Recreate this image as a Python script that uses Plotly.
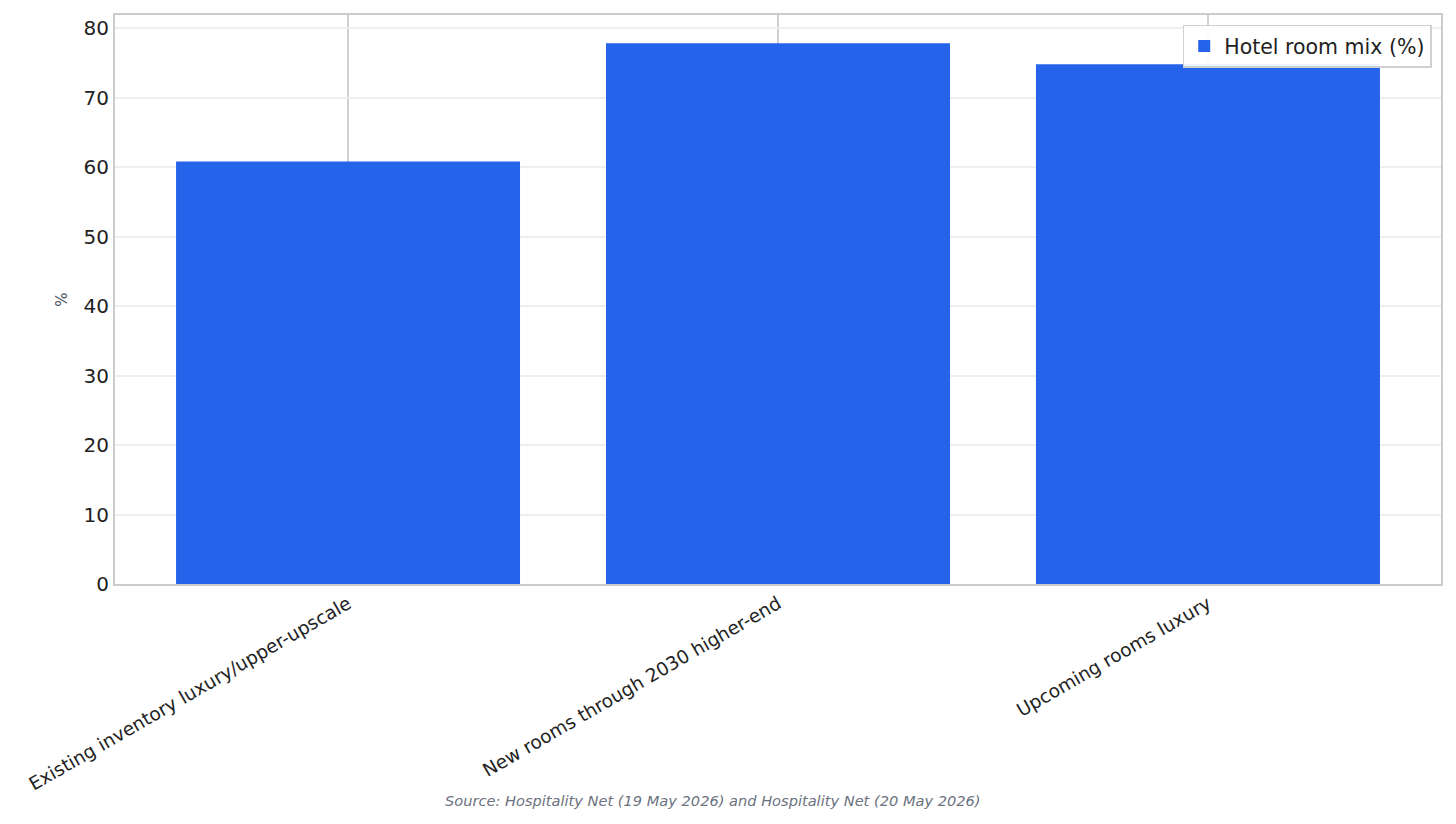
import plotly.graph_objects as go

categories = ["Existing inventory luxury/upper-upscale", "New rooms through 2030 higher-end", "Upcoming rooms luxury"]
values = [60.8, 77.8, 74.8]
series_name = "Hotel room mix (%)"
y_ticks = [0, 10, 20, 30, 40, 50, 60, 70, 80]
source_text = "Source: Hospitality Net (19 May 2026) and Hospitality Net (20 May 2026)"

fig = go.Figure()
fig.add_trace(go.Bar(x=categories, y=values, name=series_name, marker=dict(color="#2563EB", line=dict(width=0)), width=0.8))

fig.update_layout(
    width=1456, height=824,
    margin=dict(l=115, r=15, t=15, b=240),
    paper_bgcolor="white", plot_bgcolor="white",
    font=dict(family="DejaVu Sans", color="#222222"),
    showlegend=True,
    legend=dict(x=0.993, y=0.983, xanchor="right", yanchor="top", bgcolor="rgba(255,255,255,0.9)",
                bordercolor="#d0d0d0", borderwidth=1.5, font=dict(size=20.5, color="#222222")),
    bargap=0.2,
    annotations=[dict(text="<i>" + source_text + "</i>", xref="paper", yref="paper", x=0.451, y=-0.381,
                      xanchor="center", yanchor="middle", showarrow=False,
                      font=dict(size=14.6, color="#6b7280", family="DejaVu Sans"))],
)

fig.update_xaxes(range=[-0.542, 2.542], tickangle=-30, tickfont=dict(size=18.5, color="#222222"),
                 showgrid=True, gridcolor="#d0d0d0", gridwidth=1.5,
                 showline=True, linecolor="#cccccc", linewidth=2, mirror=True, ticks="")
fig.update_yaxes(range=[0, 81.87], tickvals=y_ticks, tickfont=dict(size=20, color="#222222"),
                 showgrid=True, gridcolor="#eeeeee", gridwidth=1.5, zeroline=False,
                 showline=True, linecolor="#cccccc", linewidth=2, mirror=True, ticks="",
                 title=dict(text="%", font=dict(size=15, color="#4b5563"), standoff=12))

fig.write_html("out.html")
